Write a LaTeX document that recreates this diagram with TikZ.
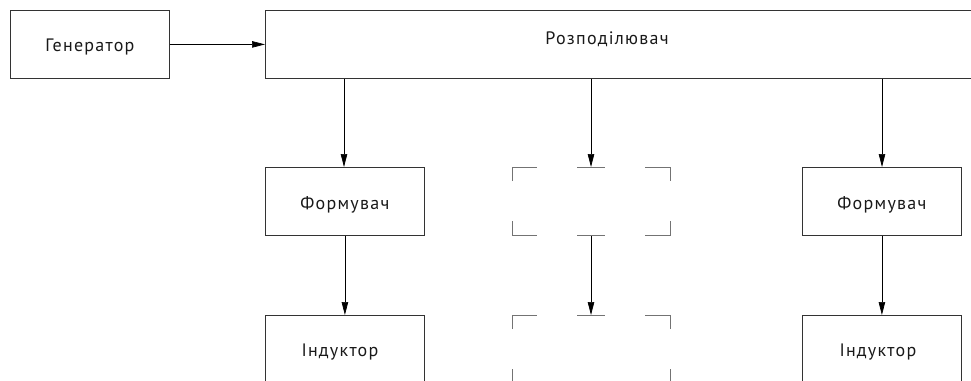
\documentclass[tikz,border=0pt]{standalone}
\usepackage{fontspec}
\setmainfont{PT Sans}[LetterSpace=7]
\usetikzlibrary{arrows.meta}
% lower the ink of a label while keeping its box for centring
\newcommand{\lowerby}[2]{\raisebox{-#1}[\height][\depth]{#2}}
\begin{document}
\begin{tikzpicture}[x=1pt,y=-1pt,
  lbl/.style={font=\fontsize{18}{20}\selectfont, text=black!90},
  blk/.style={lbl, draw=black!80, line width=0.8pt, minimum width=159pt, minimum height=68pt, inner sep=0pt, anchor=north west},
  arr/.style={draw=black, line width=0.7pt, -{Triangle[length=13pt,width=6.5pt]}},
  cornermark/.style={draw=black!55, line width=1pt}]
\useasboundingbox (0,0) rectangle (971,380);
\clip (0,0) rectangle (971,380);
% top row
\node[blk] (gen) at (10,10) {\lowerby{3pt}{Генератор}};
\node[blk, minimum width=710pt] (dist) at (265,10) {};
\node[lbl] (distlbl) at (607,39) {Розподілювач};
% shaper row
\node[blk] (f1) at (265,167) {\lowerby{3pt}{Формувач}};
\node[blk] (f3) at (802,167) {\lowerby{3pt}{Формувач}};
\coordinate (f2top) at (591,167);
\coordinate (f2bot) at (591,235);
% inductor row
\node[blk] (i1) at (265,315) {\hspace*{-10pt}\lowerby{3pt}{Індуктор}};
\node[blk] (i3) at (802,315) {\hspace*{-8pt}\lowerby{3pt}{Індуктор}};
\coordinate (i2top) at (591,315);
% connectors
\draw[arr] (gen.east) -- (gen.east -| dist.west);
\draw[arr] (dist.south -| 344,0) -- (f1.north -| 344,0);
\draw[arr] (dist.south -| f2top) -- (f2top);
\draw[arr] (dist.south -| 882,0) -- (f3.north -| 882,0);
\draw[arr] (f1.south) -- (i1.north);
\draw[arr] (f2bot) -- (i2top);
\draw[arr] (f3.south) -- (i3.north);
% omitted middle blocks, shown by corner marks
\foreach \yt/\yb in {167/235, 315/383} {
  \draw[cornermark] (512,\yt+14) -- (512,\yt) -- (537,\yt);
  \draw[cornermark] (577,\yt) -- (605,\yt);
  \draw[cornermark] (645,\yt) -- (670,\yt) -- (670,\yt+14);
  \draw[cornermark] (512,\yb-14) -- (512,\yb) -- (537,\yb);
  \draw[cornermark] (577,\yb) -- (605,\yb);
  \draw[cornermark] (645,\yb) -- (670,\yb) -- (670,\yb-14);
}
\end{tikzpicture}
\end{document}
